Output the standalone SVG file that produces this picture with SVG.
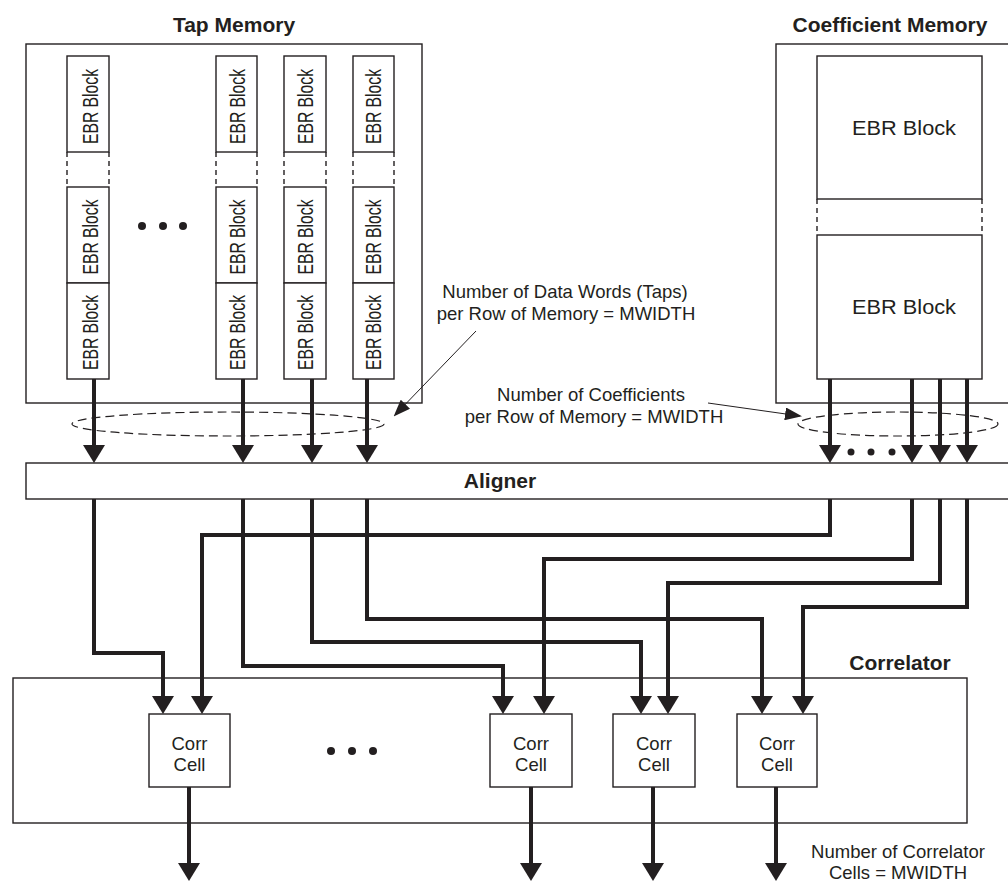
<svg xmlns="http://www.w3.org/2000/svg" width="1008" height="882" viewBox="0 0 1008 882">
<defs>
<style>
.box{fill:#fff;stroke:#231f20;stroke-width:1.4}
.dash{fill:none;stroke:#231f20;stroke-width:1.4;stroke-dasharray:5 4}
.ell{fill:none;stroke:#231f20;stroke-width:1.2;stroke-dasharray:9 5}
.wire{fill:none;stroke:#231f20;stroke-width:4;marker-end:url(#ah)}
.thin{fill:none;stroke:#231f20;stroke-width:1;marker-end:url(#sh)}
.t{font-family:"Liberation Sans",Arial,sans-serif;fill:#231f20}
.b{font-family:"Liberation Sans",Arial,sans-serif;font-weight:bold;fill:#231f20;font-size:21px;text-anchor:middle}
.ann{font-size:18.5px;text-anchor:middle}
.v{font-size:22.5px;text-anchor:middle}
.dot{fill:#231f20}
</style>
<marker id="ah" markerUnits="userSpaceOnUse" markerWidth="18" markerHeight="22" viewBox="0 0 18 22" refX="12" refY="11" orient="auto">
<path d="M0,0 L18,11 L0,22 z" fill="#231f20"/>
</marker>
<marker id="sh" markerUnits="userSpaceOnUse" markerWidth="17" markerHeight="13" viewBox="0 0 17 13" refX="15" refY="6.5" orient="auto">
<path d="M0,0 L17,6.5 L0,13 z" fill="#231f20"/>
</marker>
</defs>
<rect width="1008" height="882" fill="#fff"/>

<g id="tap-memory">
<text class="b" x="234" y="32">Tap Memory</text>
<rect class="box" x="26" y="44" width="396" height="359"/>
</g>

<g id="tap-col1">
<rect class="box" x="67" y="56" width="42" height="96"/>
<line class="dash" x1="67" y1="152" x2="67" y2="187"/><line class="dash" x1="109" y1="152" x2="109" y2="187"/>
<rect class="box" x="67" y="187" width="42" height="96"/>
<rect class="box" x="67" y="283" width="42" height="96"/>
<text class="t v" transform="translate(98,106.5) rotate(-90)" textLength="75" lengthAdjust="spacingAndGlyphs">EBR Block</text>
<text class="t v" transform="translate(98,237) rotate(-90)" textLength="75" lengthAdjust="spacingAndGlyphs">EBR Block</text>
<text class="t v" transform="translate(98,332.5) rotate(-90)" textLength="75" lengthAdjust="spacingAndGlyphs">EBR Block</text>
</g>

<g id="tap-dots">
<circle class="dot" cx="142" cy="226" r="4"/><circle class="dot" cx="163" cy="226" r="4"/><circle class="dot" cx="183" cy="226" r="4"/>
</g>

<g id="tap-col2">
<rect class="box" x="216" y="56" width="41" height="96"/>
<line class="dash" x1="216" y1="152" x2="216" y2="187"/><line class="dash" x1="257" y1="152" x2="257" y2="187"/>
<rect class="box" x="216" y="187" width="41" height="96"/>
<rect class="box" x="216" y="283" width="41" height="96"/>
<text class="t v" transform="translate(245,106.5) rotate(-90)" textLength="75" lengthAdjust="spacingAndGlyphs">EBR Block</text>
<text class="t v" transform="translate(245,237) rotate(-90)" textLength="75" lengthAdjust="spacingAndGlyphs">EBR Block</text>
<text class="t v" transform="translate(245,332.5) rotate(-90)" textLength="75" lengthAdjust="spacingAndGlyphs">EBR Block</text>
</g>

<g id="tap-col3">
<rect class="box" x="284" y="56" width="42" height="96"/>
<line class="dash" x1="284" y1="152" x2="284" y2="187"/><line class="dash" x1="326" y1="152" x2="326" y2="187"/>
<rect class="box" x="284" y="187" width="42" height="96"/>
<rect class="box" x="284" y="283" width="42" height="96"/>
<text class="t v" transform="translate(313,106.5) rotate(-90)" textLength="75" lengthAdjust="spacingAndGlyphs">EBR Block</text>
<text class="t v" transform="translate(313,237) rotate(-90)" textLength="75" lengthAdjust="spacingAndGlyphs">EBR Block</text>
<text class="t v" transform="translate(313,332.5) rotate(-90)" textLength="75" lengthAdjust="spacingAndGlyphs">EBR Block</text>
</g>

<g id="tap-col4">
<rect class="box" x="353" y="56" width="41" height="96"/>
<line class="dash" x1="353" y1="152" x2="353" y2="187"/><line class="dash" x1="394" y1="152" x2="394" y2="187"/>
<rect class="box" x="353" y="187" width="41" height="96"/>
<rect class="box" x="353" y="283" width="41" height="96"/>
<text class="t v" transform="translate(381,106.5) rotate(-90)" textLength="75" lengthAdjust="spacingAndGlyphs">EBR Block</text>
<text class="t v" transform="translate(381,237) rotate(-90)" textLength="75" lengthAdjust="spacingAndGlyphs">EBR Block</text>
<text class="t v" transform="translate(381,332.5) rotate(-90)" textLength="75" lengthAdjust="spacingAndGlyphs">EBR Block</text>
</g>

<g id="coef-memory">
<text class="b" x="890" y="32">Coefficient Memory</text>
<rect class="box" x="776" y="44" width="250" height="359"/>
<rect class="box" x="817" y="56" width="165" height="143"/>
<line class="dash" x1="817" y1="199" x2="817" y2="235"/><line class="dash" x1="982" y1="199" x2="982" y2="235"/>
<rect class="box" x="817" y="235" width="165" height="144"/>
<text class="t" x="904" y="135" font-size="20" text-anchor="middle" textLength="104" lengthAdjust="spacingAndGlyphs">EBR Block</text>
<text class="t" x="904" y="314" font-size="20" text-anchor="middle" textLength="104" lengthAdjust="spacingAndGlyphs">EBR Block</text>
</g>

<g id="aligner">
<rect class="box" x="26" y="463" width="1000" height="36"/>
<text class="b" x="500" y="488">Aligner</text>
</g>

<g id="correlator">
<text class="b" x="900" y="670">Correlator</text>
<rect class="box" x="13" y="678" width="954" height="145"/>
<circle class="dot" cx="331" cy="751" r="4"/><circle class="dot" cx="352" cy="751" r="4"/><circle class="dot" cx="373" cy="751" r="4"/>
</g>

<g id="cell1">
<rect class="box" x="149" y="714" width="81" height="73"/>
<text class="t ann" x="189.5" y="750">Corr</text><text class="t ann" x="189.5" y="771">Cell</text>
</g>
<g id="cell2">
<rect class="box" x="490" y="714" width="82" height="73"/>
<text class="t ann" x="531" y="750">Corr</text><text class="t ann" x="531" y="771">Cell</text>
</g>
<g id="cell3">
<rect class="box" x="613" y="714" width="82" height="73"/>
<text class="t ann" x="654" y="750">Corr</text><text class="t ann" x="654" y="771">Cell</text>
</g>
<g id="cell4">
<rect class="box" x="737" y="714" width="80" height="73"/>
<text class="t ann" x="777" y="750">Corr</text><text class="t ann" x="777" y="771">Cell</text>
</g>

<g id="annotations">
<ellipse class="ell" cx="228" cy="424" rx="156" ry="12"/>
<ellipse class="ell" cx="898" cy="424" rx="100" ry="12"/>
<text class="t ann" x="565" y="298">Number of Data Words (Taps)</text>
<text class="t ann" x="566" y="320">per Row of Memory = MWIDTH</text>
<text class="t ann" x="591" y="401">Number of Coefficients</text>
<text class="t ann" x="594" y="423">per Row of Memory = MWIDTH</text>
<text class="t ann" x="898" y="858">Number of Correlator</text>
<text class="t ann" x="898" y="879">Cells = MWIDTH</text>
<circle class="dot" cx="851" cy="452" r="3.5"/><circle class="dot" cx="871" cy="452" r="3.5"/><circle class="dot" cx="892" cy="452" r="3.5"/>
</g>

<g id="connectors">
<line class="thin" x1="476" y1="331" x2="395" y2="415"/>
<line class="thin" x1="708" y1="403" x2="800" y2="416"/>
<path class="wire" d="M94 379 V457"/>
<path class="wire" d="M243 379 V457"/>
<path class="wire" d="M312 379 V457"/>
<path class="wire" d="M367 379 V457"/>
<path class="wire" d="M830 379 V457"/>
<path class="wire" d="M912 379 V457"/>
<path class="wire" d="M940 379 V457"/>
<path class="wire" d="M967 379 V457"/>
<path class="wire" d="M94 499 V653 H163 V708"/>
<path class="wire" d="M243 499 V666 H503 V708"/>
<path class="wire" d="M312 499 V642 H641 V708"/>
<path class="wire" d="M367 499 V619 H762 V708"/>
<path class="wire" d="M830 499 V535 H202 V708"/>
<path class="wire" d="M912 499 V559 H544 V708"/>
<path class="wire" d="M940 499 V583 H668 V708"/>
<path class="wire" d="M967 499 V607 H803 V708"/>
<path class="wire" d="M189 787 V875"/>
<path class="wire" d="M531 787 V875"/>
<path class="wire" d="M653 787 V875"/>
<path class="wire" d="M776 787 V875"/>
</g>
</svg>
